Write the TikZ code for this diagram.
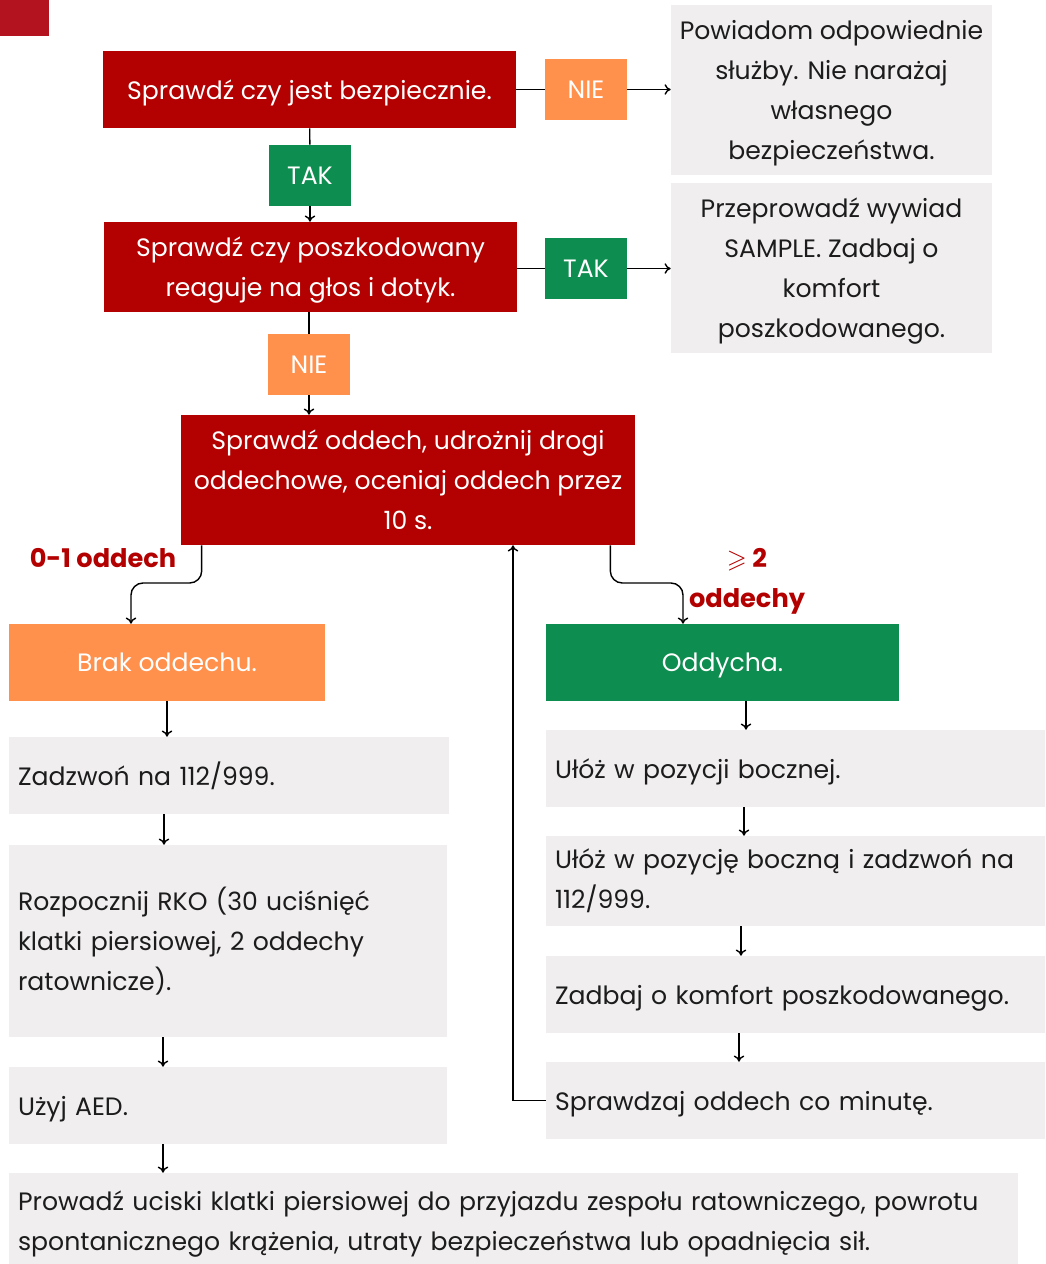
\documentclass[tikz,border=0pt]{standalone}
\usepackage{amssymb}
\usepackage{fontspec}
\setmainfont{Poppins}
\usetikzlibrary{arrows.meta}

\definecolor{czerwony}{HTML}{B30000}
\definecolor{rog}{HTML}{B3121F}
\definecolor{pomarancz}{HTML}{FF914D}
\definecolor{zielony}{HTML}{0E8D50}
\definecolor{szary}{HTML}{F0EEEF}
\definecolor{tekst}{HTML}{1C1C1C}

\newcommand{\tekstfont}{\fontsize{14.3}{22.76}\selectfont}

\tikzset{
  krok/.style={fill=czerwony, text=white, inner sep=0pt, text depth=0pt, align=center},
  tak/.style={fill=zielony, text=white, inner sep=0pt, text depth=0pt, minimum width=1.64cm, minimum height=1.22cm},
  nie/.style={fill=pomarancz, text=white, inner sep=0pt, text depth=0pt, minimum width=1.64cm, minimum height=1.22cm},
  info/.style={fill=szary, text=tekst, inner sep=0pt, text depth=0pt, align=center},
  opis/.style={fill=szary, text=tekst, inner xsep=0.18cm, inner ysep=0pt, align=left},
  jedna/.style={text depth=0pt},
  etykieta/.style={text=czerwony, text depth=0pt, font=\bfseries\fontsize{14.6}{22.76}\selectfont},
  linia/.style={line width=0.8pt},
  strzalka/.style={line width=0.8pt, -{To[length=3.5pt,width=6pt]}},
}

\begin{document}
\begin{tikzpicture}[x=0.02cm, y=-0.02cm, font=\tekstfont]
\useasboundingbox (0,0) rectangle (1045,1264);
\fill[rog] (0,0) rectangle (49,36);

% gora
\node[krok, minimum width=8.26cm, minimum height=1.54cm] (krok1) at (309.5,89.5) {Sprawdź czy jest bezpiecznie.};
\node[nie] (nie1) at (586,89.5) {NIE};
\node[info, minimum width=6.42cm, minimum height=3.4cm] (info1) at (831.5,90) {Powiadom odpowiednie\\służby. Nie narażaj\\własnego\\bezpieczeństwa.};
\node[tak] (tak1) at (310,175.5) {TAK};
\node[krok, minimum width=8.26cm, minimum height=1.8cm] (krok2) at (310.5,267) {Sprawdź czy poszkodowany\\reaguje na głos i dotyk.};
\node[tak] (tak2) at (586,268.5) {TAK};
\node[info, minimum width=6.42cm, minimum height=3.4cm] (info2) at (831.5,268) {Przeprowadź wywiad\\SAMPLE. Zadbaj o\\komfort\\poszkodowanego.};
\node[nie] (nie2) at (309,364.5) {NIE};
\node[krok, minimum width=9.08cm, minimum height=2.6cm] (krok3) at (408,480) {Sprawdź oddech, udrożnij drogi\\oddechowe, oceniaj oddech przez\\10 s.};

% rozgalezienie
\node[nie, minimum width=6.32cm, minimum height=1.54cm] (brak) at (167,662.5) {Brak oddechu.};
\node[tak, minimum width=7.06cm, minimum height=1.54cm] (oddycha) at (722.5,662.5) {Oddycha.};
\node[etykieta] (zero) at (103,558) {0-1 oddech};
\node[etykieta, align=center] (dwa) at (747,578) {$\geqslant$ 2\\oddechy};

% lewa kolumna
\node[opis, text width=8.44cm, minimum height=1.54cm] (zadzwon) at (229,775.5) {Zadzwoń na 112/999.};
\node[opis, text width=8.4cm, minimum height=3.84cm] (rko) at (228,941) {Rozpocznij RKO (30 uciśnięć\\klatki piersiowej, 2 oddechy\\ratownicze).};
\node[opis, jedna, text width=8.4cm, minimum height=1.54cm] (aed) at (228,1105.5) {Użyj AED.};
\node[opis, text width=19.82cm, minimum height=2.06cm] (dol) at (513.5,1224.5) {Prowadź uciski klatki piersiowej do przyjazdu zespołu ratowniczego, powrotu\\spontanicznego krążenia, utraty bezpieczeństwa lub opadnięcia sił.};

% prawa kolumna
\node[opis, jedna, text width=9.62cm, minimum height=1.54cm] (boczna) at (795.5,768.5) {Ułóż w pozycji bocznej.};
\node[opis, text width=9.62cm, minimum height=1.8cm] (boczna2) at (795.5,881) {Ułóż w pozycję boczną i zadzwoń na\\112/999.};
\node[opis, jedna, text width=9.62cm, minimum height=1.54cm] (komfort) at (795.5,994.5) {Zadbaj o komfort poszkodowanego.};
\node[opis, jedna, text width=9.62cm, minimum height=1.54cm] (minuta) at (795.5,1100.5) {Sprawdzaj oddech co minutę.};

% polaczenia
\draw[linia] (krok1) -- (nie1);
\draw[strzalka] (nie1.east) -- (nie1.east -| info1.west);
\draw[linia] (krok1) -- (tak1);
\draw[strzalka] (tak1) -- (tak1 |- krok2.north);
\draw[linia] (krok2.east |- tak2) -- (tak2);
\draw[strzalka] (tak2.east) -- (tak2.east -| info2.west);
\draw[linia] (krok2.south -| nie2) -- (nie2);
\draw[strzalka] (nie2) -- (nie2 |- krok3.north);

\coordinate (lewy) at (131,583);
\coordinate (prawy) at (683,583);
\draw[strzalka, rounded corners=0.24cm] ([xshift=0.42cm]krok3.south west) |- (lewy) -- (lewy |- brak.north);
\draw[strzalka, rounded corners=0.24cm] ([xshift=-0.5cm]krok3.south east) |- (prawy) -- (prawy |- oddycha.north);

\draw[strzalka] (brak.south) -- (brak.south |- zadzwon.north);
\draw[strzalka] (zadzwon.south -| 164,0) -- (rko.north -| 164,0);
\draw[strzalka] (rko.south -| 163,0) -- (aed.north -| 163,0);
\draw[strzalka] (aed.south -| 163,0) -- (dol.north -| 163,0);

\draw[strzalka] (oddycha.south -| 746,0) -- (boczna.north -| 746,0);
\draw[strzalka] (boczna.south -| 744,0) -- (boczna2.north -| 744,0);
\draw[strzalka] (boczna2.south -| 741,0) -- (komfort.north -| 741,0);
\draw[strzalka] (komfort.south -| 739,0) -- (minuta.north -| 739,0);
\draw[strzalka] (minuta.west) -| (krok3.south -| 513,0);
\end{tikzpicture}
\end{document}
